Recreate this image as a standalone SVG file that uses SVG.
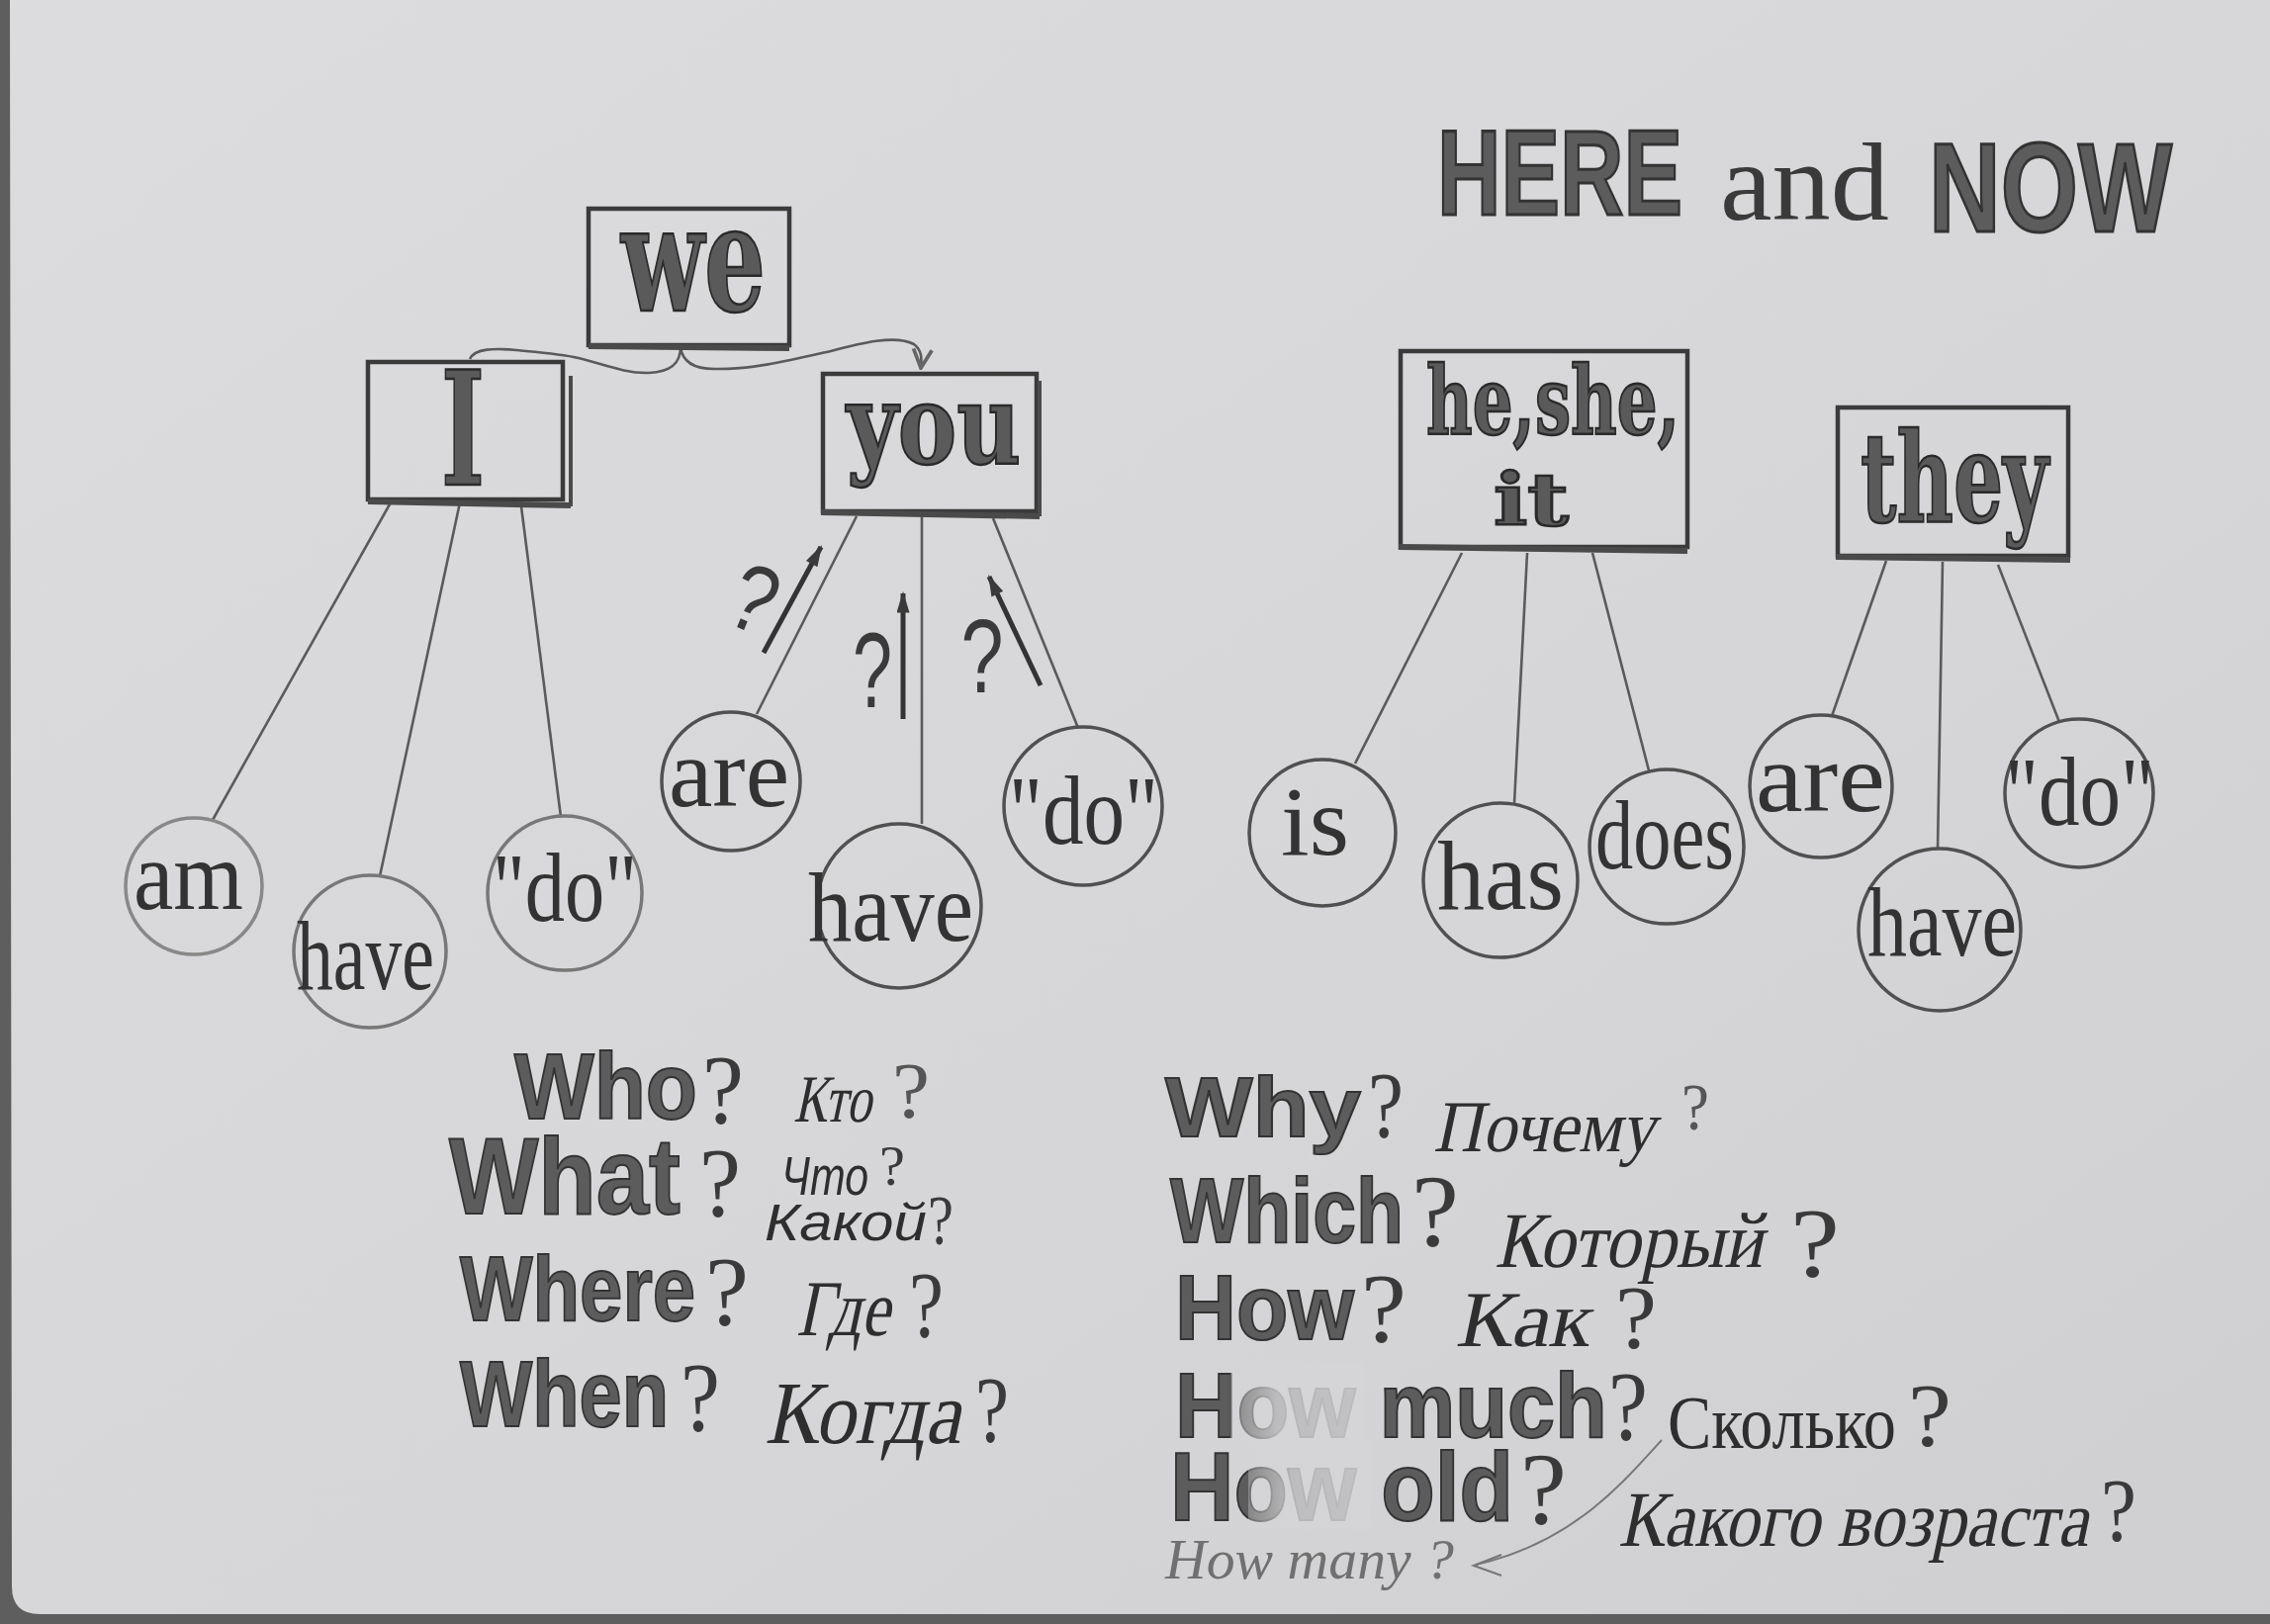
<svg xmlns="http://www.w3.org/2000/svg" width="2295" height="1642" viewBox="0 0 2295 1642">
<defs>
<style>
.box{fill:none;stroke:#3a3a3a;stroke-width:4.5}
.shadow{fill:none;stroke:#4a4a4a;stroke-width:4}
.bl{font-family:"DejaVu Serif","Liberation Serif",serif;font-weight:bold;fill:#5a5a5a;stroke:#2a2a2a;stroke-width:2.5}
.circ{fill:none;stroke:#505050;stroke-width:3.5}
.lbl{font-family:"Liberation Serif","DejaVu Serif",serif;fill:#333;font-size:100px}
.ln{fill:none;stroke:#5a5a5a;stroke-width:2.6}
.en{font-family:"Liberation Sans","DejaVu Sans",sans-serif;font-weight:bold;fill:#5c5c5c;stroke:#333;stroke-width:2}
.q{font-family:"Liberation Serif","DejaVu Serif",serif;fill:#3a3a3a}
.ru{font-family:"Liberation Serif","DejaVu Serif",serif;fill:#2e2e2e}
.rus{font-family:"Liberation Sans","DejaVu Sans",sans-serif;font-style:italic;fill:#2e2e2e}
.hw{font-family:"Liberation Serif","DejaVu Serif",serif;font-style:italic;fill:#707070}
.qa{stroke:#333;stroke-width:5;fill:none}
.qm{font-family:"Liberation Sans","DejaVu Sans",sans-serif;fill:#3a3a3a}
.smudge{fill:url(#smudge)}
</style>
<marker id="qhead" viewBox="0 0 10 6" refX="9" refY="3" markerWidth="5.5" markerHeight="2.6" orient="auto" markerUnits="strokeWidth">
<path d="M0,0 L10,3 L0,6 z" fill="#3a3a3a"/>
</marker>
<marker id="openhead" viewBox="0 0 10 10" refX="9" refY="5" markerWidth="9" markerHeight="9" orient="auto" markerUnits="strokeWidth">
<path d="M1,1 L9,5 L1,9" fill="none" stroke="#666" stroke-width="1.6"/>
</marker>
<linearGradient id="paper" x1="0" y1="0" x2="1" y2="1">
<stop offset="0" stop-color="#dcdcde"/>
<stop offset="0.6" stop-color="#d6d6d8"/>
<stop offset="1" stop-color="#cfcfd1"/>
</linearGradient>
<linearGradient id="smudge" x1="0" y1="0" x2="1" y2="0">
<stop offset="0" stop-color="#d5d5d7" stop-opacity="0.35"/>
<stop offset="0.35" stop-color="#d5d5d7" stop-opacity="0.8"/>
<stop offset="1" stop-color="#d5d5d7" stop-opacity="0.85"/>
</linearGradient>
</defs>

<!-- background -->
<rect x="0" y="0" width="2295" height="1642" fill="#5e5e5e"/>
<path d="M10,0 H2295 V1632 H40 Q12,1632 12,1604 Z" fill="url(#paper)"/>

<!-- title -->
<g id="title">
<text x="1453" y="217" class="en" font-size="123" textLength="341.7" lengthAdjust="spacingAndGlyphs" style="stroke-width:3" transform="translate(1453 217) scale(0.726 1) translate(-1453 -217)">HERE</text>
<text x="1739" y="222" font-family="Liberation Serif, serif" font-size="112" fill="#3a3a3a" textLength="161.7" lengthAdjust="spacingAndGlyphs" transform="translate(1739 222) scale(1.057 1) translate(-1739 -222)">and</text>
<text x="1950" y="234" class="en" font-size="128" textLength="312.8" lengthAdjust="spacingAndGlyphs" style="stroke-width:3" transform="translate(1950 234) scale(0.786 1) translate(-1950 -234)">NOW</text>
</g>

<!-- connectors -->
<g id="connectors">
<path class="ln" d="M475,363 C480,352 500,352 522,354 C545,356 565,358 580,361 C605,366 630,378 656,377 C680,376 688,366 688,351 C690,366 702,373 722,373 C760,374 800,364 840,355 C870,347 905,338 924,348 C932,354 932,362 931,372" marker-end="url(#openhead)"/>
<line class="ln" x1="395" y1="508" x2="215" y2="829"/>
<line class="ln" x1="465" y1="508" x2="384" y2="886"/>
<line class="ln" x1="527" y1="512" x2="567" y2="826"/>
<line class="ln" x1="866" y1="522" x2="765" y2="722"/>
<line class="ln" x1="932" y1="522" x2="932" y2="833"/>
<line class="ln" x1="1004" y1="524" x2="1090" y2="736"/>
<line class="ln" x1="1478" y1="559" x2="1370" y2="772"/>
<line class="ln" x1="1544" y1="559" x2="1531" y2="812"/>
<line class="ln" x1="1610" y1="559" x2="1667" y2="779"/>
<line class="ln" x1="1907" y1="567" x2="1852" y2="724"/>
<line class="ln" x1="1964" y1="568" x2="1959" y2="859"/>
<line class="ln" x1="2020" y1="571" x2="2082" y2="730"/>
<!-- question arrows -->
<line class="qa" x1="772" y1="660" x2="830" y2="553" marker-end="url(#qhead)"/>
<line class="qa" x1="913" y1="727" x2="913" y2="600" marker-end="url(#qhead)"/>
<line class="qa" x1="1052" y1="693" x2="1000" y2="583" marker-end="url(#qhead)"/>
<text class="qm" font-size="96" transform="translate(750,636) rotate(22)" text-anchor="middle" textLength="44" lengthAdjust="spacingAndGlyphs">?</text>
<text class="qm" x="882" y="715" font-size="108" text-anchor="middle" textLength="40" lengthAdjust="spacingAndGlyphs">?</text>
<text class="qm" x="993" y="700" font-size="106" text-anchor="middle" textLength="43" lengthAdjust="spacingAndGlyphs">?</text>
</g>

<!-- boxes -->
<g id="node-we">
<rect class="box" x="595" y="211" width="203" height="138"/>
<line class="shadow" x1="595" y1="350" x2="798" y2="352" style="stroke-width:6"/>
<text class="bl" x="628" y="314" font-size="150" textLength="146" lengthAdjust="spacingAndGlyphs">we</text>
</g>
<g id="node-I">
<rect class="box" x="372" y="366" width="197" height="139"/>
<line class="shadow" x1="577" y1="380" x2="577" y2="512"/>
<line class="shadow" x1="372" y1="507" x2="577" y2="511" style="stroke-width:6"/>
<text class="bl" x="446" y="490" font-size="160" textLength="44" lengthAdjust="spacingAndGlyphs">I</text>
</g>
<g id="node-you">
<rect class="box" x="832" y="378" width="216" height="139"/>
<line class="shadow" x1="1051" y1="385" x2="1051" y2="522"/>
<line class="shadow" x1="830" y1="518" x2="1051" y2="522" style="stroke-width:6"/>
<text class="bl" x="856" y="468" font-size="112" textLength="176" lengthAdjust="spacingAndGlyphs">you</text>
</g>
<g id="node-hesheit">
<rect class="box" x="1416" y="355" width="290" height="198"/>
<line class="shadow" x1="1414" y1="553" x2="1706" y2="557" style="stroke-width:6"/>
<text class="bl" x="1442" y="439" font-size="96" textLength="256" lengthAdjust="spacingAndGlyphs">he,she,</text>
<text class="bl" x="1510" y="531" font-size="73" textLength="76" lengthAdjust="spacingAndGlyphs">it</text>
</g>
<g id="node-they">
<rect class="box" x="1858" y="412" width="233" height="150"/>
<line class="shadow" x1="1856" y1="563" x2="2093" y2="566" style="stroke-width:6"/>
<text class="bl" x="1881" y="527" font-size="125" textLength="190" lengthAdjust="spacingAndGlyphs">they</text>
</g>

<!-- circles -->
<g id="node-am"><circle class="circ" cx="196" cy="896" r="69" style="stroke:#888"/><text class="lbl" x="135" y="919" textLength="122" lengthAdjust="spacingAndGlyphs" transform="translate(135 919) scale(0.91 1) translate(-135 -919)">am</text></g>
<g id="node-I-have"><circle class="circ" cx="374" cy="962" r="77" style="stroke:#777"/><text class="lbl" x="300" y="1000" textLength="188.8" lengthAdjust="spacingAndGlyphs" transform="translate(300 1000) scale(0.736 1) translate(-300 -1000)">have</text></g>
<g id="node-I-do"><circle class="circ" cx="571" cy="903" r="78" style="stroke:#777"/><text class="lbl" x="498" y="931" textLength="181.6" lengthAdjust="spacingAndGlyphs" transform="translate(498 931) scale(0.804 1) translate(-498 -931)">"do"</text></g>
<g id="node-you-are"><circle class="circ" cx="739" cy="790" r="70"/><text class="lbl" x="676" y="815" textLength="122" lengthAdjust="spacingAndGlyphs">are</text></g>
<g id="node-you-have"><circle class="circ" cx="909" cy="916" r="83"/><text class="lbl" x="817" y="951" textLength="188.8" lengthAdjust="spacingAndGlyphs" transform="translate(817 951) scale(0.885 1) translate(-817 -951)">have</text></g>
<g id="node-you-do"><circle class="circ" cx="1095" cy="815" r="80"/><text class="lbl" x="1020" y="853" textLength="181.6" lengthAdjust="spacingAndGlyphs" transform="translate(1020 853) scale(0.831 1) translate(-1020 -853)">"do"</text></g>
<g id="node-is"><circle class="circ" cx="1337" cy="842" r="74"/><text class="lbl" x="1295" y="864" textLength="67" lengthAdjust="spacingAndGlyphs" transform="translate(1295 864) scale(1.03 1) translate(-1295 -864)">is</text></g>
<g id="node-has"><circle class="circ" cx="1517" cy="890" r="78"/><text class="lbl" x="1453" y="919" textLength="133.3" lengthAdjust="spacingAndGlyphs" transform="translate(1453 919) scale(0.96 1) translate(-1453 -919)">has</text></g>
<g id="node-does"><circle class="circ" cx="1685" cy="856" r="78"/><text class="lbl" x="1613" y="878" textLength="183.3" lengthAdjust="spacingAndGlyphs" transform="translate(1613 878) scale(0.764 1) translate(-1613 -878)">does</text></g>
<g id="node-they-are"><circle class="circ" cx="1841" cy="795" r="72"/><text class="lbl" x="1775" y="820" textLength="122.4" lengthAdjust="spacingAndGlyphs" transform="translate(1775 820) scale(1.07 1) translate(-1775 -820)">are</text></g>
<g id="node-they-have"><circle class="circ" cx="1961" cy="940" r="82"/><text class="lbl" x="1888" y="966" textLength="188.8" lengthAdjust="spacingAndGlyphs" transform="translate(1888 966) scale(0.8 1) translate(-1888 -966)">have</text></g>
<g id="node-they-do"><circle class="circ" cx="2102" cy="802" r="75"/><text class="lbl" x="2027" y="834" textLength="181.6" lengthAdjust="spacingAndGlyphs" transform="translate(2027 834) scale(0.831 1) translate(-2027 -834)">"do"</text></g>

<!-- question words -->
<g id="questions-left">
<text class="en" x="520" y="1131" font-size="94" textLength="203.6" lengthAdjust="spacingAndGlyphs" transform="translate(520 1131) scale(0.909 1) translate(-520 -1131)">Who</text>
<text class="q" x="710" y="1135" font-size="100" textLength="42" lengthAdjust="spacingAndGlyphs">?</text>
<text class="ru" x="802" y="1134" font-size="68" textLength="117.2" lengthAdjust="spacingAndGlyphs" transform="translate(802 1134) skewX(-12) scale(0.67 1) translate(-802 -1134)">Кто</text>
<text class="q" x="902" y="1130" font-size="80" textLength="38" lengthAdjust="spacingAndGlyphs" style="fill:#555">?</text>

<text class="en" x="454" y="1227" font-size="110" textLength="268.8" lengthAdjust="spacingAndGlyphs" transform="translate(454 1227) scale(0.8705 1) translate(-454 -1227)">What</text>
<text class="q" x="707" y="1229" font-size="100" textLength="42" lengthAdjust="spacingAndGlyphs">?</text>
<text class="rus" x="790" y="1208" font-size="56" textLength="100" lengthAdjust="spacingAndGlyphs" transform="translate(790 1208) scale(0.88 1) translate(-790 -1208)">Что</text>
<text class="q" x="889" y="1198" font-size="56" textLength="26" lengthAdjust="spacingAndGlyphs">?</text>
<text class="rus" x="773" y="1254" font-size="52" textLength="149" lengthAdjust="spacingAndGlyphs" transform="translate(773 1254) scale(1.1 1) translate(-773 -1254)">Какой</text>
<text class="q" x="938" y="1258" font-size="72" textLength="26" lengthAdjust="spacingAndGlyphs">?</text>

<text class="en" x="465" y="1335" font-size="92" textLength="281.2" lengthAdjust="spacingAndGlyphs" transform="translate(465 1335) scale(0.8465 1) translate(-465 -1335)">Where</text>
<text class="q" x="713" y="1339" font-size="100" textLength="44" lengthAdjust="spacingAndGlyphs">?</text>
<text class="ru" x="805" y="1350" font-size="80" textLength="123.7" lengthAdjust="spacingAndGlyphs" transform="translate(805 1350) skewX(-12) scale(0.76 1) translate(-805 -1350)">Где</text>
<text class="q" x="919" y="1352" font-size="96" textLength="35" lengthAdjust="spacingAndGlyphs">?</text>

<text class="en" x="465" y="1442" font-size="95" textLength="258.6" lengthAdjust="spacingAndGlyphs" transform="translate(465 1442) scale(0.816 1) translate(-465 -1442)">When</text>
<text class="q" x="688" y="1446" font-size="100" textLength="40" lengthAdjust="spacingAndGlyphs">?</text>
<text class="ru" x="773" y="1459" font-size="90" textLength="234.6" lengthAdjust="spacingAndGlyphs" transform="translate(773 1459) skewX(-12) scale(0.844 1) translate(-773 -1459)">Когда</text>
<text class="q" x="986" y="1458" font-size="96" textLength="34" lengthAdjust="spacingAndGlyphs">?</text>
</g>

<g id="questions-right">
<text class="en" x="1178" y="1149" font-size="86" textLength="181.5" lengthAdjust="spacingAndGlyphs" transform="translate(1178 1149) scale(1.091 1) translate(-1178 -1149)">Why</text>
<text class="q" x="1383" y="1150" font-size="96" textLength="36" lengthAdjust="spacingAndGlyphs">?</text>
<text class="ru" x="1449" y="1164" font-size="74" textLength="243.5" lengthAdjust="spacingAndGlyphs" transform="translate(1449 1164) skewX(-12) scale(0.92 1) translate(-1449 -1164)">Почему</text>
<text class="q" x="1700" y="1142" font-size="68" textLength="28" lengthAdjust="spacingAndGlyphs" style="fill:#555">?</text>

<text class="en" x="1183" y="1256" font-size="92" textLength="276" lengthAdjust="spacingAndGlyphs" transform="translate(1183 1256) scale(0.855 1) translate(-1183 -1256)">Which</text>
<text class="q" x="1427" y="1260" font-size="104" textLength="48" lengthAdjust="spacingAndGlyphs">?</text>
<text class="ru" x="1511" y="1281" font-size="80" textLength="318" lengthAdjust="spacingAndGlyphs" transform="translate(1511 1281) skewX(-12) scale(0.852 1) translate(-1511 -1281)">Который</text>
<text class="q" x="1810" y="1290" font-size="100" textLength="50" lengthAdjust="spacingAndGlyphs">?</text>

<text class="en" x="1188" y="1354" font-size="92" textLength="194.2" lengthAdjust="spacingAndGlyphs" transform="translate(1188 1354) scale(0.932 1) translate(-1188 -1354)">How</text>
<text class="q" x="1376" y="1356" font-size="100" textLength="46" lengthAdjust="spacingAndGlyphs">?</text>
<text class="ru" x="1471" y="1361" font-size="80" textLength="135" lengthAdjust="spacingAndGlyphs" transform="translate(1471 1361) skewX(-12) translate(-1471 -1361)">Как</text>
<text class="q" x="1633" y="1363" font-size="92" textLength="42" lengthAdjust="spacingAndGlyphs">?</text>

<text class="en" x="1188" y="1453" font-size="92" textLength="465.2" lengthAdjust="spacingAndGlyphs" transform="translate(1188 1453) scale(0.939 1) translate(-1188 -1453)">How much</text>
<rect class="smudge" x="1244" y="1378" width="136" height="84"/>
<text class="q" x="1626" y="1455" font-size="100" textLength="40" lengthAdjust="spacingAndGlyphs">?</text>
<text class="ru" x="1686" y="1464" font-size="76" textLength="276" lengthAdjust="spacingAndGlyphs" transform="translate(1686 1464) scale(0.837 1) translate(-1686 -1464)">Сколько</text>
<text class="q" x="1929" y="1462" font-size="92" textLength="44" lengthAdjust="spacingAndGlyphs">?</text>

<text class="en" x="1183" y="1537" font-size="98" textLength="381.1" lengthAdjust="spacingAndGlyphs" transform="translate(1183 1537) scale(0.9105 1) translate(-1183 -1537)">How old</text>
<rect class="smudge" x="1262" y="1458" width="124" height="88"/>
<text class="q" x="1537" y="1541" font-size="104" textLength="47" lengthAdjust="spacingAndGlyphs">?</text>
<text class="ru" x="1636" y="1563" font-size="80" textLength="565.5" lengthAdjust="spacingAndGlyphs" transform="translate(1636 1563) skewX(-12) scale(0.84 1) translate(-1636 -1563)">Какого возраста</text>
<text class="q" x="2124" y="1558" font-size="92" textLength="36" lengthAdjust="spacingAndGlyphs">?</text>

<text class="hw" x="1178" y="1596" font-size="58" textLength="292" lengthAdjust="spacingAndGlyphs">How many ?</text>
<path d="M1680,1456 C1640,1500 1590,1560 1492,1582" fill="none" stroke="#777" stroke-width="2"/>
<path d="M1518,1572 L1490,1583 L1518,1593" fill="none" stroke="#777" stroke-width="2.2"/>
</g>
</svg>
